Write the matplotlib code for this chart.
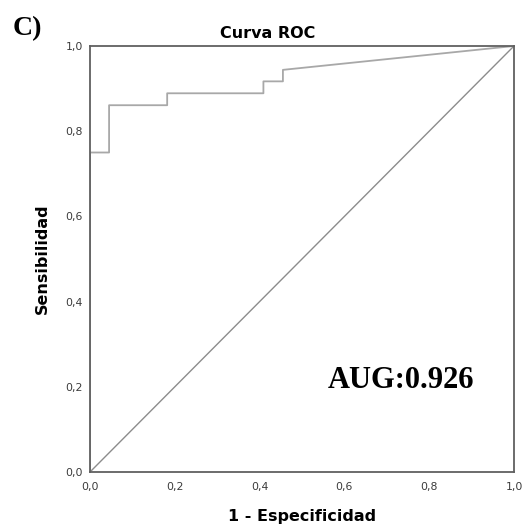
import matplotlib
matplotlib.use("Agg")
import matplotlib.pyplot as plt
from matplotlib.font_manager import FontProperties
from matplotlib.ticker import FuncFormatter

# ROC curve steps (1 - especificidad, sensibilidad)
fpr = [0.0, 0.0, 0.045, 0.045, 0.182, 0.182, 0.409, 0.409, 0.455, 0.455, 1.0]
tpr = [0.0, 0.75, 0.75, 0.861, 0.861, 0.889, 0.889, 0.917, 0.917, 0.944, 1.0]
ticks = [0.0, 0.2, 0.4, 0.6, 0.8, 1.0]
auc_text = "AUG:0.926"

plt.rcParams['font.family'] = ['DejaVu Sans']

fig = plt.figure(figsize=(5.23, 5.27), dpi=100)
ax = fig.add_axes([90 / 523, 55 / 527, 424 / 523, 426 / 527])

ax.plot([0, 1], [0, 1], color='#8c8c8c', lw=1.0)
ax.plot(fpr, tpr, color='#a8a8a8', lw=1.3)

ax.set_xlim(0, 1)
ax.set_ylim(0, 1)
ax.set_xticks(ticks)
ax.set_yticks(ticks)
fmt = FuncFormatter(lambda v, p: f"{v:.1f}".replace('.', ','))
ax.xaxis.set_major_formatter(fmt)
ax.yaxis.set_major_formatter(fmt)
ax.tick_params(length=0, labelsize=7.8, labelcolor='#3a3a3a')
ax.tick_params(axis='y', pad=5)
ax.tick_params(axis='x', pad=7)
for s in ax.spines.values():
    s.set_color('#606060')
    s.set_linewidth(1.3)

ax.set_xlabel('1 - Especificidad', fontsize=11.5, fontweight='bold', va='center')
ax.xaxis.set_label_coords(0.5, -(516 - 472) / 426)
ax.set_ylabel('Sensibilidad', fontsize=11.5, fontweight='bold', va='center')
ax.yaxis.set_label_coords(-(90 - 42) / 424, 0.5)
fig.text(268 / 523, 1 - 33 / 527, 'Curva ROC', ha='center', va='center',
         fontsize=11.5, fontweight='bold')

serif_c = FontProperties(family='Liberation Serif', weight='bold', size=20)
serif_auc = FontProperties(family='Liberation Serif', weight='bold', size=22)
fig.text(13 / 523, 1 - 29 / 527, 'C)', ha='left', va='center',
         fontproperties=serif_c)
ax.text(0.561, 0.197, auc_text, transform=ax.transAxes, ha='left', va='baseline',
        fontproperties=serif_auc)

fig.savefig('out.png', dpi=100, facecolor='white')
